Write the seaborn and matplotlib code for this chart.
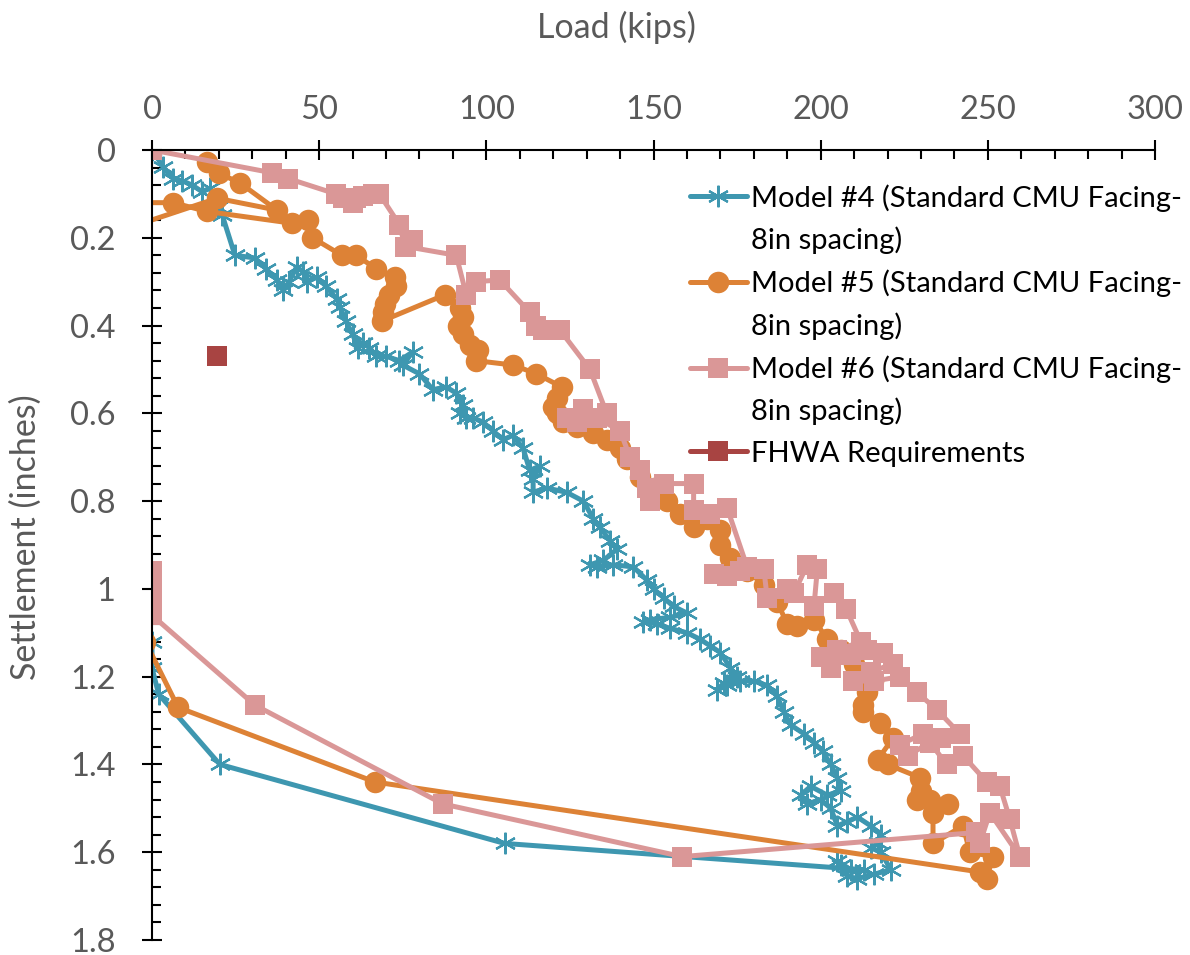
import numpy as np
import pandas as pd
import matplotlib
matplotlib.use("Agg")
import matplotlib.pyplot as plt
from matplotlib.lines import Line2D
from matplotlib.ticker import MultipleLocator, FixedLocator
import seaborn as sns

# ---------------- data (load in kips, settlement in inches) ----------------
m4_load = [0, 3.3, 6.3, 9, 12, 15, 17.3, 19.7, 21, 24.8, 30.8, 34, 37.4, 39.2, 41, 43.3, 45.2, 46.3,
           49.3, 52, 55.3, 56.2, 58, 60, 61.6, 63, 65, 67, 70, 74, 78, 75, 80, 84, 88, 91, 93, 92, 94,
           96, 99, 102, 105, 108, 111, 113, 116, 114, 114, 118, 124, 129, 132, 134, 137, 139, 135,
           131, 133, 138, 144, 148, 150, 153, 156, 160, 155, 149, 147, 151, 155, 160, 164, 167, 170,
           173, 175, 171, 169, 172, 176, 180, 184, 187, 189, 191, 195, 198, 200.6, 203, 205, 206,
           202, 197, 194, 196, 200, 203, 205, 208, 211, 215, 218, 217, 215, 218, 221, 216, 211, 208,
           206, 205, 209, 213, 105.5, 20.3, 2, 0, 0]
m4_settle = [0, 0.038, 0.065, 0.07, 0.08, 0.095, 0.087, 0.13, 0.148, 0.24, 0.246, 0.27, 0.296, 0.32,
             0.30, 0.266, 0.278, 0.30, 0.29, 0.31, 0.34, 0.357, 0.39, 0.42, 0.45, 0.44, 0.45, 0.47,
             0.47, 0.48, 0.46, 0.49, 0.51, 0.546, 0.54, 0.554, 0.58, 0.60, 0.61, 0.61, 0.62, 0.64,
             0.66, 0.65, 0.68, 0.73, 0.72, 0.75, 0.78, 0.77, 0.78, 0.80, 0.84, 0.86, 0.89, 0.91,
             0.935, 0.945, 0.95, 0.945, 0.95, 0.98, 1.0, 1.02, 1.04, 1.055, 1.065, 1.07, 1.075, 1.08,
             1.09, 1.10, 1.115, 1.13, 1.145, 1.18, 1.20, 1.215, 1.23, 1.22, 1.21, 1.21, 1.22, 1.245,
             1.28, 1.31, 1.33, 1.35, 1.37, 1.40, 1.43, 1.46, 1.47, 1.45, 1.47, 1.49, 1.48, 1.50,
             1.54, 1.53, 1.52, 1.54, 1.56, 1.58, 1.59, 1.60, 1.64, 1.65, 1.66, 1.655, 1.63, 1.62,
             1.64, 1.64, 1.58, 1.40, 1.24, 1.18, 1.12]

m5_load = [16.4, 20, 26.3, 37.4, 19.5, -5, -5, 6.3, 16.4, 42, 46.7, 48, 56.8, 61, 67, 72.7, 73, 71,
           69.7, 69, 68.7, 87.6, 92, 93, 91.5, 93, 95, 97.5, 97, 108, 115, 122.6, 121, 120, 121, 123,
           127, 132, 136, 140, 142, 146, 150, 154, 158, 162, 166, 170, 170, 173, 178, 183, 187, 190,
           193, 198, 202, 206, 210, 215.6, 214, 212.7, 212.7, 217.8, 221.6, 217, 220, 229.7, 230,
           228.7, 232.7, 238, 233.6, 233.6, 242.6, 244.6, 251.5, 249.7, 247.6, 66.7, 7.8, -2]
m5_settle = [0.027, 0.053, 0.075, 0.137, 0.11, 0.172, 0.12, 0.12, 0.14, 0.167, 0.16, 0.20, 0.24, 0.24,
             0.27, 0.29, 0.31, 0.33, 0.35, 0.37, 0.39, 0.33, 0.36, 0.38, 0.40, 0.42, 0.445, 0.455,
             0.48, 0.49, 0.51, 0.54, 0.565, 0.585, 0.60, 0.62, 0.63, 0.645, 0.66, 0.68, 0.705, 0.745,
             0.77, 0.80, 0.83, 0.86, 0.84, 0.865, 0.90, 0.93, 0.96, 0.99, 1.03, 1.08, 1.085, 1.07,
             1.115, 1.14, 1.17, 1.21, 1.235, 1.265, 1.28, 1.306, 1.34, 1.39, 1.40, 1.43, 1.46, 1.48,
             1.48, 1.49, 1.51, 1.58, 1.54, 1.60, 1.61, 1.66, 1.645, 1.44, 1.27, 1.12]

m6_load = [0, 36, 40.7, 55, 57, 60, 61, 63, 66, 68, 74, 75.7, 78, 76, 91, 94, 97, 104, 113, 115, 117,
           122, 131, 136, 129, 124, 127, 133, 140, 143, 146, 148, 149, 153, 162, 162, 167, 172, 178,
           172, 168, 176, 183, 184, 190, 192, 196, 199, 198, 204, 207.6, 212, 205, 200, 203, 209, 214,
           218.6, 221.6, 215, 209.7, 216, 223.7, 228.7, 234.7, 241.6, 236, 230.7, 223.7, 226, 232.7,
           237.7, 242.6, 249.7, 253.6, 256.6, 259.6, 250.6, 247.6, 246.6, 158.5, 87, 30.8, 0, 0, 0, 0]
m6_settle = [0, 0.052, 0.065, 0.10, 0.11, 0.12, 0.11, 0.105, 0.10, 0.10, 0.17, 0.22, 0.205, 0.22,
             0.24, 0.33, 0.30, 0.296, 0.37, 0.40, 0.41, 0.41, 0.50, 0.60, 0.59, 0.61, 0.62, 0.61,
             0.64, 0.70, 0.73, 0.77, 0.80, 0.76, 0.76, 0.82, 0.83, 0.815, 0.95, 0.97, 0.965, 0.96,
             0.955, 1.02, 1.0, 1.01, 0.945, 0.955, 1.04, 1.01, 1.045, 1.12, 1.14, 1.155, 1.18, 1.15,
             1.14, 1.146, 1.17, 1.19, 1.21, 1.21, 1.20, 1.235, 1.275, 1.33, 1.34, 1.33, 1.355, 1.38,
             1.35, 1.40, 1.38, 1.44, 1.45, 1.525, 1.61, 1.51, 1.58, 1.555, 1.61, 1.49, 1.265, 1.06,
             1.02, 0.98, 0.96]

fhwa_load = [19.5]
fhwa_settle = [0.47]

labels = ["Model #4 (Standard CMU Facing-\n8in spacing)",
          "Model #5 (Standard CMU Facing-\n8in spacing)",
          "Model #6 (Standard CMU Facing-\n8in spacing)",
          "FHWA Requirements"]
x_ticks = [0, 50, 100, 150, 200, 250, 300]
y_ticks = [0, 0.2, 0.4, 0.6, 0.8, 1.0, 1.2, 1.4, 1.6, 1.8]
y_ticklabels = ["0", "0.2", "0.4", "0.6", "0.8", "1", "1.2", "1.4", "1.6", "1.8"]

# ---------------- styling ----------------
sns.set_theme(style="white")
plt.rcParams["font.family"] = ["Lato", "DejaVu Sans"]

C4, C5, C6, CF = "#3E97B0", "#DD8236", "#DA9797", "#A84442"
GREY = "#595959"
TICK_FS = 23.5
TITLE_FS = 24.5
LEG_FS = 21

fig = plt.figure(figsize=(11.9, 9.55), dpi=100)
ax = fig.add_axes([152 / 1190, 1 - 940 / 955, (1155 - 152) / 1190, (940 - 150) / 955])

df4 = pd.DataFrame({"load": m4_load, "settle": m4_settle})
df5 = pd.DataFrame({"load": m5_load, "settle": m5_settle})
df6 = pd.DataFrame({"load": m6_load, "settle": m6_settle})
dff = pd.DataFrame({"load": fhwa_load, "settle": fhwa_settle})

LW = 3.6
MS_AST, MS_O, MS_S = 15.5, 15.5, 15
sns.lineplot(data=df4, x="load", y="settle", sort=False, estimator=None, ax=ax, color=C4,
             lw=LW, marker=(6, 2, 0), markersize=MS_AST, markeredgecolor=C4, markeredgewidth=1.6,
             zorder=3)
sns.lineplot(data=df5, x="load", y="settle", sort=False, estimator=None, ax=ax, color=C5,
             lw=LW, marker="o", markersize=MS_O, markeredgecolor=C5, markeredgewidth=0,
             zorder=4)
sns.lineplot(data=df6, x="load", y="settle", sort=False, estimator=None, ax=ax, color=C6,
             lw=LW, marker="s", markersize=MS_S, markeredgecolor=C6, markeredgewidth=0,
             zorder=5)
sns.lineplot(data=dff, x="load", y="settle", sort=False, estimator=None, ax=ax, color=CF,
             lw=LW, marker="s", markersize=MS_S, markeredgecolor=CF, markeredgewidth=0,
             zorder=6)

ax.set_xlim(0, 300)
ax.set_ylim(1.8, 0)

# axes / spines
for s in ["right", "bottom"]:
    ax.spines[s].set_visible(False)
for s in ["left", "top"]:
    ax.spines[s].set_color("black")
    ax.spines[s].set_linewidth(1.5)
    ax.spines[s].set_zorder(10)

ax.xaxis.tick_top()
ax.xaxis.set_label_position("top")
ax.xaxis.set_major_locator(FixedLocator(x_ticks))
ax.xaxis.set_minor_locator(MultipleLocator(10))
ax.yaxis.set_major_locator(FixedLocator(y_ticks))
ax.set_yticklabels(y_ticklabels)
ax.yaxis.set_minor_locator(MultipleLocator(0.04))

ax.tick_params(axis="both", which="major", direction="inout", length=14.4, width=1.5,
               color="black", labelsize=TICK_FS, labelcolor=GREY)
ax.tick_params(axis="both", which="minor", direction="in", length=6.3, width=1.5, color="black")
ax.tick_params(axis="x", which="both", top=True, bottom=False, labeltop=True, labelbottom=False)
ax.tick_params(axis="x", which="major", pad=11)
ax.tick_params(axis="y", which="both", left=True, right=False)
ax.tick_params(axis="y", which="major", pad=19)

ax.set_xlabel("Load (kips)", fontsize=TITLE_FS, color=GREY)
ax.set_ylabel("Settlement (inches)", fontsize=TITLE_FS, color=GREY)
ax.xaxis.set_label_coords((616 - 152) / 1003, 1 + (150 - 38) / 790)
ax.yaxis.set_label_coords((42 - 152) / 1003, (940 - 537) / 790)
ax.grid(False)

# legend (label lines split so that handles sit on the first line, like the original)
blank = Line2D([], [], linestyle="none", marker=None)
h4 = Line2D([], [], color=C4, lw=LW, marker=(6, 2, 0), markersize=MS_AST, mec=C4, mew=1.6)
h5 = Line2D([], [], color=C5, lw=LW, marker="o", markersize=MS_O, mec=C5, mew=0)
h6 = Line2D([], [], color=C6, lw=LW, marker="s", markersize=MS_S, mec=C6, mew=0)
hf = Line2D([], [], color=CF, lw=LW, marker="s", markersize=MS_S, mec=CF, mew=0)
handles, texts = [], []
for h, lab in zip([h4, h5, h6, hf], labels):
    parts = lab.split("\n")
    handles.append(h)
    texts.append(parts[0])
    for p in parts[1:]:
        handles.append(blank)
        texts.append(p)
leg = fig.legend(handles, texts, loc="upper left", bbox_to_anchor=(690 / 1190, 1 - 184 / 955),
                 frameon=False, fontsize=LEG_FS, handlelength=1.95, handletextpad=0.15,
                 labelspacing=0.52, borderpad=0, borderaxespad=0)
for t in leg.get_texts():
    t.set_color("black")

fig.savefig("out.png", dpi=100)
